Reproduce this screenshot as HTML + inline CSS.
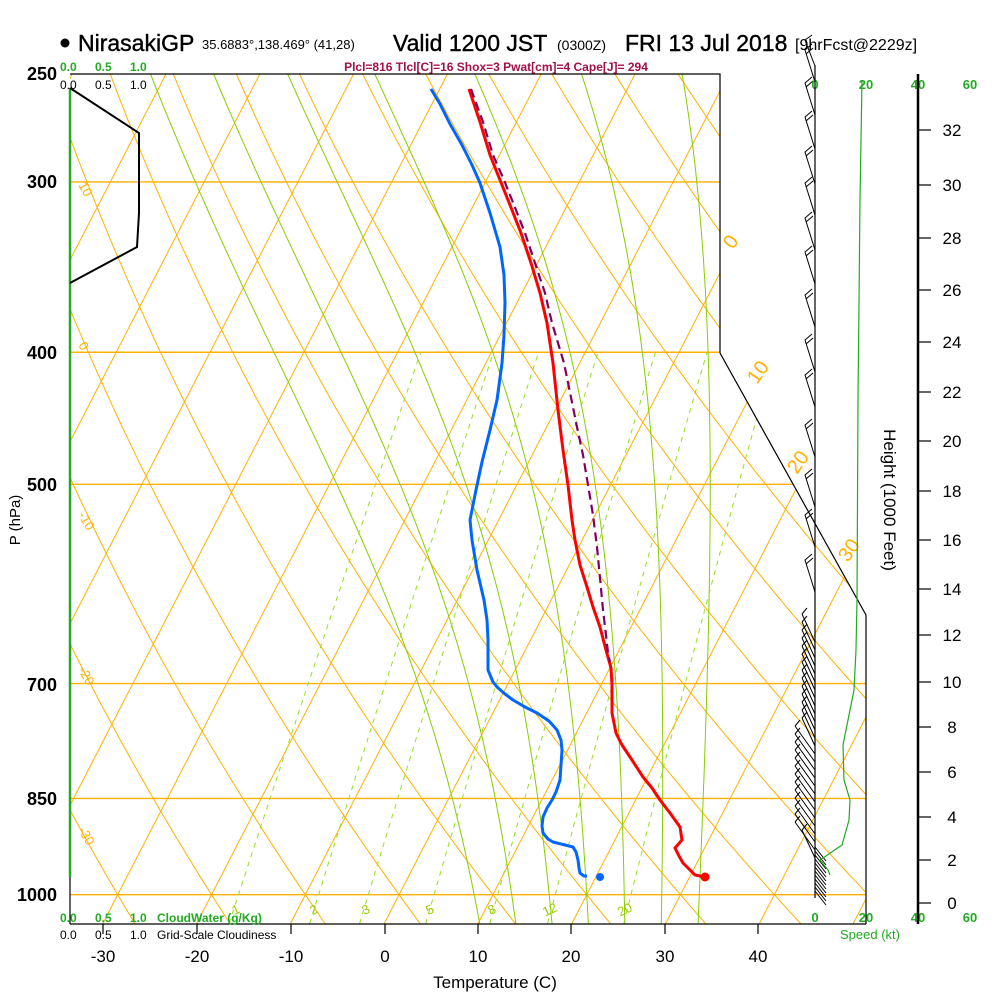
<!DOCTYPE html>
<html><head><meta charset="utf-8"><style>
html,body{margin:0;padding:0;background:#fff;}
svg text{font-family:"Liberation Sans",sans-serif;}
</style></head><body>
<svg id="s" width="1000" height="1000" viewBox="0 0 1000 1000" xmlns="http://www.w3.org/2000/svg">
<defs><clipPath id="cp"><polygon points="70,74 720,74 720,353 866,615 866,924 70,924"/></clipPath></defs>
<rect width="1000" height="1000" fill="#fff"/>
<g id="grid" clip-path="url(#cp)"></g>
<g id="fg"></g>
<polyline points="70,74 720,74 720,353 866,615 866,924" fill="none" stroke="#000" stroke-width="1.2"/>
<line x1="70" y1="924" x2="866" y2="924" stroke="#000" stroke-width="1.2"/>
<line x1="70" y1="877" x2="70" y2="924" stroke="#000" stroke-width="1.2"/>
<line x1="70" y1="88" x2="70" y2="877" stroke="#22aa22" stroke-width="2.5"/>
<polyline points="70,88 139,133 139,213 137,247 70,283" fill="none" stroke="#000" stroke-width="2"/>
<circle cx="65" cy="43" r="4.5" fill="#000"/>
<text x="78" y="51" font-size="23" stroke="#000" stroke-width="0.4">NirasakiGP</text>
<text x="202" y="49" font-size="13">35.6883°,138.469° (41,28)</text>
<text x="393" y="51" font-size="23" stroke="#000" stroke-width="0.4">Valid 1200 JST</text>
<text x="557" y="50" font-size="14">(0300Z)</text>
<text x="625" y="51" font-size="23" stroke="#000" stroke-width="0.4">FRI 13 Jul 2018</text>
<text x="795" y="50" font-size="16">[9hrFcst@2229z]</text>
<text x="496" y="71" font-size="12" font-weight="bold" fill="#a0104a" text-anchor="middle">Plcl=816 Tlcl[C]=16 Shox=3 Pwat[cm]=4 Cape[J]= 294</text>
<g font-size="12" font-weight="bold" fill="#22aa22"><text x="60" y="71">0.0</text><text x="95" y="71">0.5</text><text x="130" y="71">1.0</text></g>
<g font-size="12" fill="#000"><text x="60" y="89">0.0</text><text x="95" y="89">0.5</text><text x="130" y="89">1.0</text></g>
<g font-size="12" font-weight="bold" fill="#22aa22"><text x="60" y="922">0.0</text><text x="95" y="922">0.5</text><text x="130" y="922">1.0</text><text x="157" y="922">CloudWater (g/Kg)</text></g>
<g font-size="12" fill="#000"><text x="60" y="939">0.0</text><text x="95" y="939">0.5</text><text x="130" y="939">1.0</text><text x="157" y="939">Grid-Scale Cloudiness</text></g>
<g font-size="18" font-weight="bold" text-anchor="end">
<text x="57" y="80">250</text><text x="57" y="188">300</text><text x="57" y="359">400</text><text x="57" y="491">500</text><text x="57" y="691">700</text><text x="57" y="805">850</text><text x="57" y="901">1000</text></g>
<text transform="translate(20,520) rotate(-90)" font-size="15" text-anchor="middle">P (hPa)</text>
<g font-size="17" text-anchor="middle">
<text x="103" y="962">-30</text><text x="197" y="962">-20</text><text x="291" y="962">-10</text><text x="385" y="962">0</text><text x="478" y="962">10</text><text x="571" y="962">20</text><text x="665" y="962">30</text><text x="758" y="962">40</text></g>
<text x="495" y="988" font-size="17" text-anchor="middle">Temperature (C)</text>
<g stroke="#000" stroke-width="1.2"><line x1="103" y1="924" x2="103" y2="934"/><line x1="197" y1="924" x2="197" y2="934"/><line x1="291" y1="924" x2="291" y2="934"/><line x1="385" y1="924" x2="385" y2="934"/><line x1="478" y1="924" x2="478" y2="934"/><line x1="571" y1="924" x2="571" y2="934"/><line x1="665" y1="924" x2="665" y2="934"/><line x1="758" y1="924" x2="758" y2="934"/></g>
<g font-size="13" font-weight="bold" fill="#22aa22" text-anchor="middle">
<text x="815" y="89">0</text><text x="866" y="89">20</text><text x="918" y="89">40</text><text x="970" y="89">60</text>
<text x="815" y="922">0</text><text x="866" y="922">20</text><text x="918" y="922">40</text><text x="970" y="922">60</text></g>
<text x="870" y="939" font-size="13" fill="#22aa22" text-anchor="middle">Speed (kt)</text>
<line x1="815" y1="65" x2="815" y2="898" stroke="#000" stroke-width="1.2"/>
<polyline points="862,80 860,200 858,400 857,600 856,650 854,690 848,720 843,745 844,780 850,800 849,820 842,845 820,860 828,870 830,875" fill="none" stroke="#22aa22" stroke-width="1.2"/>
<line x1="918" y1="74" x2="918" y2="924" stroke="#000" stroke-width="2.5"/>
<g id="hax"></g>
<text transform="translate(884,500) rotate(90)" font-size="17" text-anchor="middle">Height (1000 Feet)</text>
</svg>
<script>
(function(){
var NS="http://www.w3.org/2000/svg";
function Y(p){return 74+592*Math.log(p/250);}
function X(T,p){return 384+9.38*T+0.516*(924-Y(p));}
var g=document.getElementById('grid'), fg=document.getElementById('fg');
function el(par,tag,at,txt){var e=document.createElementNS(NS,tag);for(var k in at)e.setAttribute(k,at[k]);if(txt!=null)e.textContent=txt;par.appendChild(e);return e;}
function path(par,pts,at){var d='';for(var i=0;i<pts.length;i++)d+=(i?'L':'M')+pts[i][0].toFixed(1)+','+pts[i][1].toFixed(1);at.d=d;at.fill='none';return el(par,'path',at);}
var OR='#ffb000',GR='#88cc00';
[300,400,500,700,850,1000].forEach(function(p){el(g,'line',{x1:70,x2:870,y1:Y(p),y2:Y(p),stroke:OR,'stroke-width':1.4});});
for(var T=-140;T<=60;T+=10){path(g,[[X(T,1050),Y(1050)],[X(T,240),Y(240)]],{stroke:OR,'stroke-width':1});}
for(var th=-60;th<=220;th+=10){var pts=[];for(var p=1060;p>=240;p-=10){var Tk=(th+273.15)*Math.pow(p/1000,0.286);pts.push([X(Tk-273.15,p),Y(p)]);}path(g,pts,{stroke:OR,'stroke-width':1});}
function es(Tc){return 6.112*Math.exp(17.67*Tc/(Tc+243.5));}
function dTdlnp(Tk,p){var Tc=Tk-273.15,e=es(Tc),rs=0.622*e/(p-e);return (287*Tk+2.5e6*rs)/(1005+2.5e6*2.5e6*rs*0.622/(287*Tk*Tk));}
for(var tw=8;tw<=32;tw+=4){
 var up=[],Tk=tw+273.15,lp=Math.log(1000),step=-0.005;
 for(var lnp=lp;lnp>=Math.log(240);lnp+=step){var p=Math.exp(lnp);up.push([X(Tk-273.15,p),Y(p)]);Tk+=dTdlnp(Tk,p)*step;}
 var dn=[];Tk=tw+273.15;
 for(var lnp=lp;lnp<=Math.log(1060);lnp-=step){var p=Math.exp(lnp);dn.push([X(Tk-273.15,p),Y(p)]);Tk-=dTdlnp(Tk,p)*step;}
 path(g,dn.reverse().concat(up),{stroke:GR,'stroke-width':1});
}
[1,2,3,5,8,12,20].forEach(function(w){var pts=[];for(var p=1050;p>=400;p-=10){var e=w*p/(622+w),l=Math.log(e/6.112),T=243.5*l/(17.67-l);pts.push([X(T,p),Y(p)]);}path(g,pts,{stroke:'#99dd22','stroke-width':1,'stroke-dasharray':'5,5'});});
var mx={1:236,2:314,3:366,5:430,8:492,12:550,20:625};
for(var k in mx)el(fg,'text',{x:mx[k],y:914,'font-size':13,fill:'#99cc00','text-anchor':'middle',transform:'rotate(-25 '+mx[k]+' 910)'},k);
[[78,185,'10'],[78,345,'0'],[78,515,'-10'],[78,670,'-20'],[78,830,'-30']].forEach(function(a){el(fg,'text',{x:a[0],y:a[1],'font-size':13,fill:OR,transform:'rotate(60 '+a[0]+' '+a[1]+')'},a[2]);});
[[733,250,'0'],[757,385,'10'],[797,475,'20'],[848,563,'30']].forEach(function(a){el(fg,'text',{x:a[0],y:a[1],'font-size':20,fill:OR,transform:'rotate(-55 '+a[0]+' '+a[1]+')'},a[2]);});
var wb=[80,113,147,182,213,248,282,325,370,405,455,505,545,590];
wb.forEach(function(y){el(fg,'polyline',{points:'815,'+(y+2)+' 805,'+(y-30)+' 812,'+(y-36),fill:'none',stroke:'#000','stroke-width':1});el(fg,'line',{x1:806,y1:y-26,x2:813,y2:y-32,stroke:'#000','stroke-width':1});});
el(fg,'polyline',{points:'815,66 805,40 812,35',fill:'none',stroke:'#000','stroke-width':1});
for(var y=620;y<=840;y+=8){var lx=y>730&&y<830?795:802;el(fg,'line',{x1:lx,y1:y-6,x2:815,y2:y+22,stroke:'#000','stroke-width':1});el(fg,'line',{x1:lx,y1:y-6,x2:lx+5,y2:y-12,stroke:'#000','stroke-width':1});}
for(var y=855;y<=900;y+=4){el(fg,'line',{x1:815,y1:y-8,x2:826,y2:y+6,stroke:'#000','stroke-width':1});}
function pl(pts,st,w,da){var a={points:pts.map(function(q){return q.join(',');}).join(' '),fill:'none',stroke:st,'stroke-width':w,'stroke-linejoin':'round'};if(da)a['stroke-dasharray']=da;el(fg,'polyline',a);}
pl([[469,89],[480,122],[490,155],[500,180],[510,205],[521,233],[531,263],[540,293],[547,323],[550,343],[553,363],[558,410],[563,450],[568,485],[572,520],[575,540],[580,565],[587,587],[593,607],[600,627],[606,650],[611,668],[612,685],[612,713],[616,733],[622,745],[632,760],[643,777],[652,788],[660,800],[670,813],[680,827],[682,840],[675,848],[679,856],[683,863],[689,869],[695,875],[705,877]],'#ff0000',3);
pl([[471,89],[483,122],[493,155],[504,180],[514,205],[525,233],[535,263],[545,293],[552,323],[558,343],[564,363],[577,427],[583,455],[588,485],[593,515],[597,547],[600,578],[603,610],[606,635],[608,653],[610,662]],'#800060',2.2,'9,5');
pl([[431,89],[440,104],[450,124],[462,145],[472,165],[480,183],[490,213],[500,247],[504,275],[505,303],[504,335],[502,363],[497,400],[490,430],[482,462],[476,490],[472,510],[470,520],[472,540],[477,570],[484,600],[487,620],[488,640],[488,670],[493,682],[497,687],[505,694],[513,700],[525,707],[537,713],[549,721],[557,730],[561,740],[562,750],[561,765],[560,780],[556,792],[552,800],[547,808],[543,817],[542,826],[543,833],[548,839],[553,842],[565,845],[573,847],[576,852],[578,860],[579,868],[580,873],[584,876],[587,876]],'#0066ff',3);
el(fg,'circle',{cx:705,cy:877,r:4.5,fill:'#ff0000'});
el(fg,'circle',{cx:600,cy:877,r:4,fill:'#0066ff'});
var hy={0:903,2:860,4:817,6:772,8:727,10:682,12:635,14:589,16:540,18:491,20:441,22:392,24:342,26:290,28:238,30:185,32:130};
var hx=document.getElementById('hax');
for(var k in hy){el(hx,'line',{x1:918,x2:931,y1:hy[k],y2:hy[k],stroke:'#000','stroke-width':1.2});el(hx,'text',{x:952,y:hy[k]+6,'font-size':17,'text-anchor':'middle'},k);}
})();
</script>
</body></html>
